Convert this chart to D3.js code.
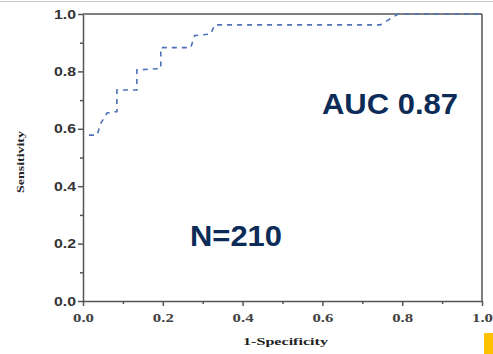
<!DOCTYPE html>
<html><head><meta charset="utf-8">
<script src="https://cdn.jsdelivr.net/npm/d3@7"></script>
<style>
html,body{margin:0;padding:0;background:#fff;}
svg{display:block;}
</style></head>
<body>
<script>
// ROC curve data (1-Specificity, Sensitivity)
const fpr = [0.015, 0.035, 0.045, 0.06, 0.085, 0.085, 0.135, 0.135, 0.195, 0.195, 0.27, 0.28, 0.32, 0.33, 0.745, 0.79, 1.0];
const tpr = [0.578, 0.578, 0.62, 0.655, 0.66, 0.735, 0.735, 0.805, 0.81, 0.883, 0.883, 0.925, 0.93, 0.962, 0.962, 1.0, 1.0];
const majorTicks = [0, 0.2, 0.4, 0.6, 0.8, 1.0];
const minorTicks = [0.1, 0.3, 0.5, 0.7, 0.9];
const tickLabels = ["0.0", "0.2", "0.4", "0.6", "0.8", "1.0"];
const aucText = "AUC 0.87";
const nText = "N=210";
const xTitle = "1-Specificity";
const yTitle = "Sensitivity";

const W = 493, H = 354;
const svg = d3.select("body").append("svg").attr("width", W).attr("height", H);

const x = d3.scaleLinear().domain([0, 1]).range([83, 482]);
const y = d3.scaleLinear().domain([0, 1]).range([301, 14]);

// top thin border of image
svg.append("line").attr("x1", 0).attr("x2", W).attr("y1", 1.5).attr("y2", 1.5)
  .attr("stroke", "#c8c8c8").attr("stroke-width", 1);

const axisColor = "#555";

// frame: top and right
svg.append("line").attr("x1", x(0)).attr("x2", x(1)).attr("y1", y(1)).attr("y2", y(1))
  .attr("stroke", axisColor).attr("stroke-width", 1.5);
svg.append("line").attr("x1", x(1)).attr("x2", x(1)).attr("y1", y(1)).attr("y2", y(0))
  .attr("stroke", axisColor).attr("stroke-width", 1.5);

// Y axis
const yAxis = svg.append("g").attr("transform", `translate(${x(0)},0)`)
  .call(d3.axisLeft(y).tickValues(majorTicks).tickSize(5).tickSizeOuter(0)
    .tickFormat((d, i) => tickLabels[i]));
yAxis.select(".domain").attr("stroke", axisColor).attr("stroke-width", 1.5);
yAxis.selectAll(".tick line").attr("stroke", axisColor).attr("stroke-width", 1.5);
yAxis.selectAll(".tick text")
  .attr("x", -7)
  .attr("font-family", "Liberation Sans, Arial, sans-serif")
  .attr("font-weight", "bold").attr("font-size", 13).attr("fill", "#333")
  .attr("textLength", 22).attr("lengthAdjust", "spacingAndGlyphs");
const yMinor = svg.append("g").attr("transform", `translate(${x(0)},0)`)
  .call(d3.axisLeft(y).tickValues(minorTicks).tickSize(3).tickFormat(""));
yMinor.select(".domain").remove();
yMinor.selectAll(".tick line").attr("stroke", axisColor).attr("stroke-width", 1.5);

// X axis
const xAxis = svg.append("g").attr("transform", `translate(0,${y(0)})`)
  .call(d3.axisBottom(x).tickValues(majorTicks).tickSize(5).tickSizeOuter(0)
    .tickFormat((d, i) => tickLabels[i]));
xAxis.select(".domain").attr("stroke", axisColor).attr("stroke-width", 1.5);
xAxis.selectAll(".tick line").attr("stroke", axisColor).attr("stroke-width", 1.5);
xAxis.selectAll(".tick text")
  .attr("y", 21).attr("dy", 0)
  .attr("font-family", "Liberation Serif, Times New Roman, serif")
  .attr("font-weight", "bold").attr("font-size", 13).attr("fill", "#444")
  .attr("textLength", 21).attr("lengthAdjust", "spacingAndGlyphs");
const xMinor = svg.append("g").attr("transform", `translate(0,${y(0)})`)
  .call(d3.axisBottom(x).tickValues(minorTicks).tickSize(3).tickFormat(""));
xMinor.select(".domain").remove();
xMinor.selectAll(".tick line").attr("stroke", axisColor).attr("stroke-width", 1.5);

// axis titles
svg.append("text").attr("x", 243).attr("y", 345)
  .attr("font-family", "Liberation Serif, Times New Roman, serif")
  .attr("font-weight", "bold").attr("font-size", 11).attr("fill", "#222")
  .attr("textLength", 85).attr("lengthAdjust", "spacingAndGlyphs")
  .text(xTitle);
svg.append("text").attr("transform", "translate(24,162) rotate(-90)")
  .attr("text-anchor", "middle")
  .attr("font-family", "Liberation Serif, Times New Roman, serif")
  .attr("font-weight", "bold").attr("font-size", 11).attr("fill", "#222")
  .attr("textLength", 62).attr("lengthAdjust", "spacingAndGlyphs")
  .text(yTitle);

// ROC curve
const pts = fpr.map((d, i) => [d, tpr[i]]);
svg.append("path").datum(pts)
  .attr("d", d3.line().x(d => x(d[0])).y(d => y(d[1])))
  .attr("fill", "none").attr("stroke", "#4d72b6").attr("stroke-width", 1.6)
  .attr("stroke-dasharray", "5,5");

// annotations
svg.append("text").attr("x", 322).attr("y", 114)
  .attr("font-family", "Liberation Sans, Arial, sans-serif")
  .attr("font-weight", "bold").attr("font-size", 29).attr("fill", "#0d2b57")
  .attr("textLength", 136).attr("lengthAdjust", "spacingAndGlyphs")
  .text(aucText);
svg.append("text").attr("x", 190).attr("y", 246)
  .attr("font-family", "Liberation Sans, Arial, sans-serif")
  .attr("font-weight", "bold").attr("font-size", 29).attr("fill", "#0d2b57")
  .attr("textLength", 92).attr("lengthAdjust", "spacingAndGlyphs")
  .text(nText);

// orange corner mark
svg.append("rect").attr("x", 484).attr("y", 333).attr("width", 9).attr("height", 21)
  .attr("fill", "#ffc000");
</script>
</body></html>
